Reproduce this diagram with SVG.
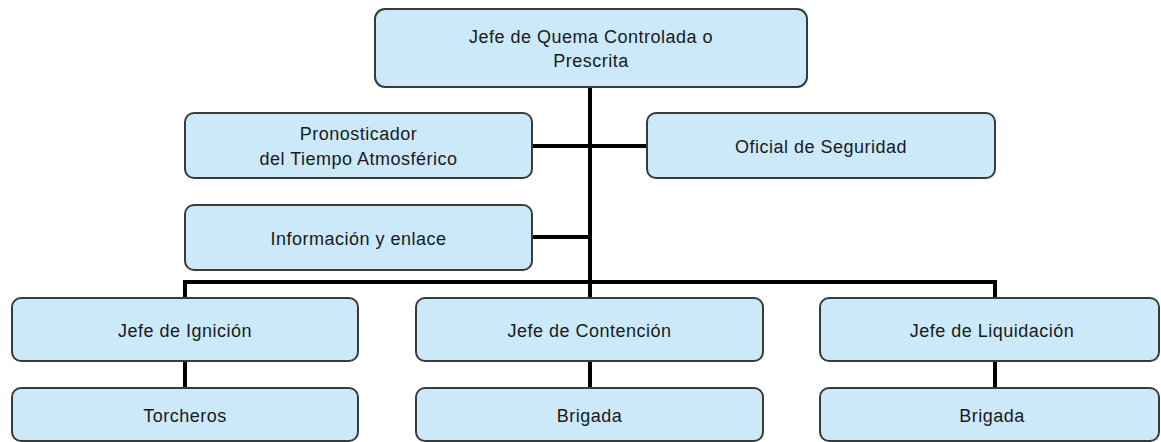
<svg xmlns="http://www.w3.org/2000/svg" width="1161" height="442" viewBox="0 0 1161 442">
<style>
.box{fill:#cce9fa;stroke:#3a3a3a;stroke-width:2}
.t{font-family:"Liberation Sans",Arial,sans-serif;font-size:18px;letter-spacing:0.5px;fill:#1a1a1a;text-anchor:middle}
.c{stroke:#000;stroke-width:4;fill:none}
</style>
<rect width="1161" height="442" fill="#fff"/>
<g id="connectors">
<line class="c" x1="590" y1="87" x2="590" y2="297"/>
<line class="c" x1="532" y1="146" x2="647" y2="146"/>
<line class="c" x1="532" y1="237" x2="590" y2="237"/>
<polyline class="c" points="185,298 185,282 995,282 995,298"/>
<line class="c" x1="185" y1="361" x2="185" y2="388"/>
<line class="c" x1="590" y1="361" x2="590" y2="388"/>
<line class="c" x1="995" y1="361" x2="995" y2="388"/>
</g>
<g id="jefe-quema">
<rect class="box" x="375" y="9" width="432" height="78" rx="10"/>
<text class="t" x="591" y="43">Jefe de Quema Controlada o</text>
<text class="t" x="591" y="67">Prescrita</text>
</g>
<g id="pronosticador">
<rect class="box" x="185" y="113" width="347" height="65" rx="9"/>
<text class="t" x="358.5" y="140">Pronosticador</text>
<text class="t" x="358.5" y="165">del Tiempo Atmosférico</text>
</g>
<g id="oficial">
<rect class="box" x="647" y="113" width="348" height="65" rx="9"/>
<text class="t" x="821" y="153">Oficial de Seguridad</text>
</g>
<g id="informacion">
<rect class="box" x="185" y="205" width="347" height="65" rx="9"/>
<text class="t" x="358.5" y="245">Información y enlace</text>
</g>
<g id="ignicion">
<rect class="box" x="12" y="298" width="346" height="63" rx="9"/>
<text class="t" x="185" y="337">Jefe de Ignición</text>
</g>
<g id="contencion">
<rect class="box" x="416" y="298" width="347" height="63" rx="9"/>
<text class="t" x="589.5" y="337">Jefe de Contención</text>
</g>
<g id="liquidacion">
<rect class="box" x="820" y="298" width="339" height="63" rx="9"/>
<text class="t" x="992" y="337">Jefe de Liquidación</text>
</g>
<g id="torcheros">
<rect class="box" x="12" y="388" width="346" height="53" rx="9"/>
<text class="t" x="185" y="422">Torcheros</text>
</g>
<g id="brigada-1">
<rect class="box" x="416" y="388" width="347" height="53" rx="9"/>
<text class="t" x="589.5" y="422">Brigada</text>
</g>
<g id="brigada-2">
<rect class="box" x="820" y="388" width="339" height="53" rx="9"/>
<text class="t" x="992" y="422">Brigada</text>
</g>
</svg>
